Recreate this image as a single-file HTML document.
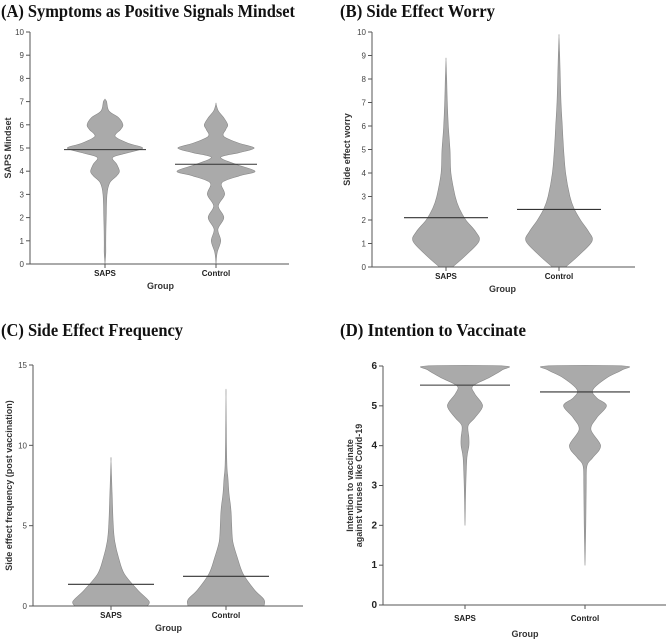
<!DOCTYPE html>
<html><head><meta charset="utf-8">
<style>
body{margin:0;background:#fff;width:666px;height:640px;overflow:hidden}
svg{display:block}
.title{font-family:"Liberation Serif",serif;font-weight:bold;font-size:18px;fill:#111}
.tick{font-family:"Liberation Sans",sans-serif;font-size:8px;fill:#444}
.tickD{font-family:"Liberation Sans",sans-serif;font-size:10px;font-weight:bold;fill:#222}
.cat{font-family:"Liberation Sans",sans-serif;font-size:8px;font-weight:bold;fill:#222}
.axt{font-family:"Liberation Sans",sans-serif;font-size:9px;font-weight:bold;fill:#333}
</style></head><body>
<svg id="fig" width="666" height="640"></svg>
<script>
// Panel A
const catsA=["SAPS","Control"];
const medA=[4.93,4.3];
const yA_saps=[0,0.5,1,2,3,3.5,3.8,4,4.3,4.6,4.8,5,5.2,5.5,5.8,6,6.3,6.6,7,7.1];
const wA_saps=[0,0.02,0.02,0.03,0.05,0.12,0.3,0.37,0.3,0.2,0.6,0.97,0.6,0.26,0.4,0.46,0.35,0.1,0.04,0];
const yA_ctrl=[0,0.5,1,1.5,2,2.5,3,3.5,3.8,4,4.3,4.6,4.8,5,5.2,5.5,5.8,6,6.3,6.6,6.9];
const wA_ctrl=[0,0.03,0.12,0.05,0.2,0.06,0.22,0.15,0.6,1.0,0.5,0.12,0.6,0.98,0.6,0.2,0.25,0.3,0.2,0.06,0];
// Panel B
const catsB=["SAPS","Control"];
const medB=[2.1,2.45];
const yB_saps=[0,0.5,1.1,1.5,2,2.5,3,4,5,6,7,8,8.8];
const wB_saps=[0.2,0.6,1.0,0.9,0.6,0.4,0.28,0.15,0.12,0.07,0.04,0.02,0];
const yB_ctrl=[0,0.5,1.1,1.5,2,2.5,3,4,5,6,7,8,9,9.8];
const wB_ctrl=[0.2,0.6,1.0,0.9,0.65,0.45,0.33,0.2,0.14,0.1,0.06,0.04,0.02,0];
// Panel C
const catsC=["SAPS","Control"];
const medC=[1.35,1.85];
const yC_saps=[0,0.3,1,2,3,4,5,7,9];
const wC_saps=[0.95,1.0,0.7,0.35,0.2,0.1,0.06,0.03,0];
const yC_ctrl=[0,0.4,1,2,3,4,5,6,7,8,9,13];
const wC_ctrl=[1.0,1.0,0.75,0.45,0.3,0.18,0.15,0.13,0.08,0.05,0.02,0];
// Panel D
const catsD=["SAPS","Control"];
const medD=[5.52,5.35];
const yD_saps=[2,3,3.7,4,4.2,4.5,4.7,5,5.3,5.5,5.7,5.9,6];
const wD_saps=[0,0.02,0.05,0.1,0.1,0.08,0.25,0.45,0.25,0.2,0.6,0.95,1.0];
const yD_ctrl=[1,2,3,3.5,3.7,4,4.4,4.7,5,5.2,5.4,5.7,5.9,6];
const wD_ctrl=[0,0.02,0.03,0.05,0.2,0.4,0.15,0.3,0.55,0.3,0.2,0.55,0.95,1.0];

const NS="http://www.w3.org/2000/svg";
const svg=document.getElementById('fig');
function mk(tag,attrs,parent){const e=document.createElementNS(NS,tag);for(const k in attrs)e.setAttribute(k,attrs[k]);(parent||svg).appendChild(e);return e;}
function smooth(pts){
  let d='M'+pts[0][0].toFixed(1)+','+pts[0][1].toFixed(1);
  for(let i=0;i<pts.length-1;i++){
    const p0=pts[Math.max(0,i-1)],p1=pts[i],p2=pts[i+1],p3=pts[Math.min(pts.length-1,i+2)];
    const c1=[p1[0]+(p2[0]-p0[0])/6,p1[1]+(p2[1]-p0[1])/6];
    const c2=[p2[0]-(p3[0]-p1[0])/6,p2[1]-(p3[1]-p1[1])/6];
    d+=` C${c1[0].toFixed(1)},${c1[1].toFixed(1)} ${c2[0].toFixed(1)},${c2[1].toFixed(1)} ${p2[0].toFixed(1)},${p2[1].toFixed(1)}`;
  }
  return d;
}

function panel(p){
  const g=mk('g',{});
  
  
  const yS=v=>p.y0+(p.y1-p.y0)*(v-p.ymin)/(p.ymax-p.ymin);
  const t=mk('text',{x:p.tx,y:p.ty,class:'title',textLength:p.tl,lengthAdjust:'spacingAndGlyphs'},g);t.textContent=p.title;
  
  p.series.forEach((s,i)=>{
    const cx=p.cx[i];
    let r=[],l=[];
    s.y.forEach((v,j)=>{const py=yS(v);const w=s.w[j]*p.maxw;r.push([cx+w,py]);l.unshift([cx-w,py]);});
    const pts=r.concat(l);
    const path=mk('path',{d:smooth(pts)+' Z',fill:'#aaaaaa',stroke:'#888','stroke-width':0.6,'stroke-linejoin':'round'},g);
    
    
    const m=mk('line',{x1:cx-p.mw,x2:cx+p.mw,y1:yS(p.med[i]),y2:yS(p.med[i]),stroke:'#333','stroke-width':1.1},g);
    
    
  });
  const ya=mk('line',{x1:p.ax,x2:p.ax,y1:yS(p.ymin),y2:yS(p.ymax),stroke:'#555','stroke-width':1},g);
  
  const xa=mk('line',{x1:p.ax,x2:p.axEnd,y1:yS(p.ymin),y2:yS(p.ymin),stroke:'#555','stroke-width':1},g);
  
  p.ticks.forEach(v=>{
    mk('line',{x1:p.ax-4,x2:p.ax,y1:yS(v),y2:yS(v),stroke:'#555'},g);
    const tl=mk('text',{x:p.ax-6,y:yS(v)+3,'text-anchor':'end',class:p.tickCls},g);tl.textContent=v;
    
  });
  p.cats.forEach((c,i)=>{
    mk('line',{x1:p.cx[i],x2:p.cx[i],y1:yS(p.ymin),y2:yS(p.ymin)+4,stroke:'#555'},g);
    const ct=mk('text',{x:p.cx[i],y:yS(p.ymin)+p.catDy,'text-anchor':'middle',class:'cat','font-size':p.catFs},g);ct.textContent=c;
    
  });
  const xt=mk('text',{x:(p.cx[0]+p.cx[1])/2,y:yS(p.ymin)+p.grpDy,'text-anchor':'middle',class:'axt','font-size':p.grpFs},g);xt.textContent='Group';
  
  const yc=(p.y0+p.y1)/2;
  const yt=mk('text',{x:p.ytx,y:yc,'text-anchor':'middle',class:'axt',transform:`rotate(-90 ${p.ytx} ${yc})`,'font-size':p.ytFs},g);yt.textContent=p.ytitle;
  
  if(p.ysub){const ys=mk('text',{x:p.ytx+9,y:yc,'text-anchor':'middle',class:'axt',transform:`rotate(-90 ${p.ytx+9} ${yc})`,'font-size':7.5,'font-weight':'normal'},g);ys.textContent=p.ysub;
    }
}
const r10=[0,1,2,3,4,5,6,7,8,9,10];
panel({name:'panel-a',title:'(A) Symptoms as Positive Signals Mindset',tx:1,ty:17,tl:294,ymin:0,ymax:10,y0:264,y1:32,ax:30,axEnd:289,cx:[105,216],cats:catsA,med:medA,mw:41,maxw:39,
  series:[{y:yA_saps,w:wA_saps},{y:yA_ctrl,w:wA_ctrl}],ticks:r10,tickCls:'tick',catDy:12,catFs:8,grpDy:25,grpFs:9,ytitle:'SAPS Mindset',ytx:11,ytFs:8.5});
panel({name:'panel-b',title:'(B) Side Effect Worry',tx:340,ty:17,tl:155,ymin:0,ymax:10,y0:267,y1:32,ax:372,axEnd:635,cx:[446,559],cats:catsB,med:medB,mw:42,maxw:33,
  series:[{y:yB_saps,w:wB_saps},{y:yB_ctrl,w:wB_ctrl}],ticks:r10,tickCls:'tick',catDy:12,catFs:8,grpDy:25,grpFs:9,ytitle:'Side effect worry',ytx:350,ytFs:8.5});
panel({name:'panel-c',title:'(C) Side Effect Frequency',tx:1,ty:336,tl:182,ymin:0,ymax:15,y0:606,y1:365,ax:33,axEnd:303,cx:[111,226],cats:catsC,med:medC,mw:43,maxw:38,
  series:[{y:yC_saps,w:wC_saps},{y:yC_ctrl,w:wC_ctrl}],ticks:[0,5,10,15],tickCls:'tick',catDy:12,catFs:8,grpDy:25,grpFs:9,ytitle:'Side effect frequency (post vaccination)',ytx:12,ytFs:8.5});
panel({name:'panel-d',title:'(D) Intention to Vaccinate',tx:340,ty:336,tl:186,ymin:0,ymax:6,y0:605,y1:366,ax:383,axEnd:666,cx:[465,585],cats:catsD,med:medD,mw:45,maxw:39,
  series:[{y:yD_saps,w:wD_saps},{y:yD_ctrl,w:wD_ctrl}],ticks:[0,1,2,3,4,5,6],tickCls:'tickD',catDy:16,catFs:10,grpDy:32,grpFs:11,ytitle:'Intention to vaccinate',ysub:'against viruses like Covid-19',ytx:353,ytFs:11});
</script>
</body></html>
